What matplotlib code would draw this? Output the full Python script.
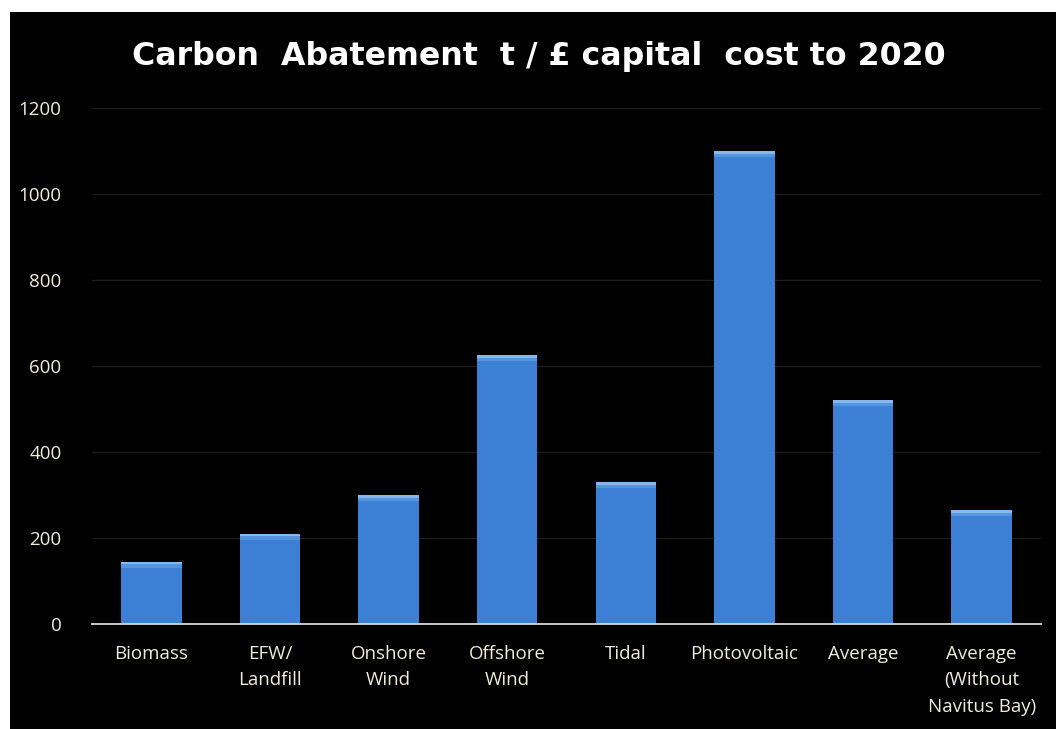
import matplotlib.pyplot as plt
from matplotlib.patches import Rectangle

# Données : abattement carbone (t / £ de coût d'investissement) jusqu'en 2020
categories = ["Biomass", "EFW/\nLandfill", "Onshore\nWind", "Offshore\nWind", "Tidal",
              "Photovoltaic", "Average", "Average\n(Without\nNavitus Bay)"]
abatement = [145, 210, 300, 625, 330, 1100, 520, 265]
yticks = [0, 200, 400, 600, 800, 1000, 1200]

fig = plt.figure(figsize=(10.56, 7.29), dpi=100, facecolor="white")

# fond noir de la diapo
fig.patches.append(Rectangle((10 / 1056, 0), 1 - 10 / 1056, 1 - 12 / 729,
                             transform=fig.transFigure, facecolor="black",
                             edgecolor="none", zorder=-10))

ax = fig.add_axes([92 / 1056, 1 - 624 / 729, (1041 - 92) / 1056, (624 - 108) / 729])
ax.set_facecolor("black")

x = range(len(categories))
ax.bar(x, abatement, width=0.51, color="#3b80d4", zorder=3)
# reflet plus clair en haut des barres
for i, v in zip(x, abatement):
    ax.bar(i, 14, bottom=v - 14, width=0.51, color="#5595e0", zorder=4)
    ax.bar(i, 6, bottom=v - 6, width=0.51, color="#86b8ee", zorder=4)

ax.set_xlim(-0.5, 7.5)
ax.set_ylim(0, 1200)
ax.set_yticks(yticks)
ax.set_xticks(list(x))
ax.set_xticklabels(categories)
ax.grid(axis="y", color="#1c1c1c", linewidth=1, zorder=0)
for s in ["top", "right", "left"]:
    ax.spines[s].set_visible(False)
ax.spines["bottom"].set_color("#d8d8d8")
ax.spines["bottom"].set_linewidth(1.3)
ax.spines["bottom"].set_zorder(5)
ax.tick_params(axis="both", length=0, colors="#f2ecdc", labelsize=13.5)
ax.tick_params(axis="x", pad=15)
ax.tick_params(axis="y", pad=22)
for lab in ax.get_xticklabels() + ax.get_yticklabels():
    lab.set_fontfamily("Open Sans")
for lab in ax.get_xticklabels():
    lab.set_linespacing(1.6)

fig.text(539 / 1056, 1 - 57 / 729, "Carbon  Abatement  t / £ capital  cost to 2020",
         ha="center", va="center", color="white", fontsize=22.8, fontweight="bold",
         fontfamily="DejaVu Sans")

fig.savefig("out.png", dpi=100, facecolor="white")
